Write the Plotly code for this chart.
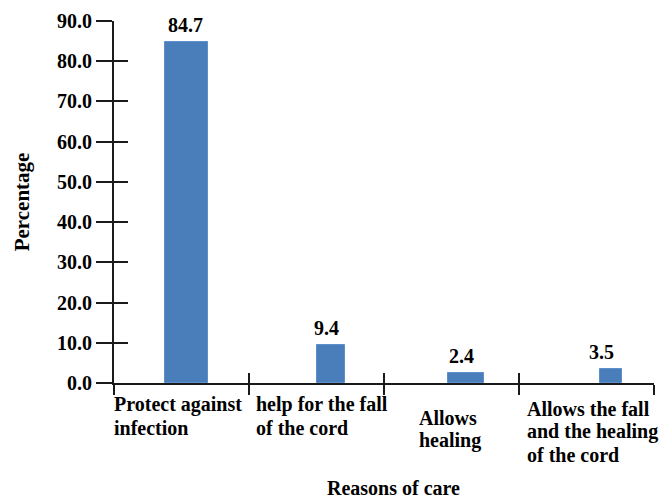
import plotly.graph_objects as go

# ---- data ----
categories = ["Protect against infection", "help for the fall of the cord",
              "Allows healing", "Allows the fall and the healing of the cord"]
category_lines = [["Protect against", "infection"],
                  ["help for the fall", "of the cord"],
                  ["Allows", "healing"],
                  ["Allows the fall", "and the healing", "of the cord"]]
percentages = [84.7, 9.4, 2.4, 3.5]
value_labels = ["84.7", "9.4", "2.4", "3.5"]
y_tickvals = [0, 10, 20, 30, 40, 50, 60, 70, 80, 90]
y_ticktext = ["0.0", "10.0", "20.0", "30.0", "40.0", "50.0", "60.0", "70.0", "80.0", "90.0"]
x_title = "Reasons of care"
y_title = "Percentage"

# ---- styles ----
FONT = "Liberation Serif"
BAR_COLOR = "#4a7ebb"
bar_widths = [0.319, 0.207, 0.267, 0.163]
bar_offsets = [-0.122, 0.004, -0.026, 0.10]
value_xshift = [3.5, 9.5, 9.5, 14.5]
cat_xshift = [-2, 5, 33, 6]
cat_first_baseline = [413, 413, 426, 417]
LINE_GAP = 23
PLOT_BOTTOM = 383
PLOT_H = 362

fig = go.Figure()
fig.add_trace(go.Bar(
    x=categories, y=percentages,
    width=bar_widths, offset=bar_offsets,
    marker=dict(color=BAR_COLOR, line=dict(color="#5e8fcc", width=1)),
    hoverinfo="skip", showlegend=False,
))
# helper trace (draws nothing) so the overlay axes get the category ticks
fig.add_trace(go.Scatter(x=categories, y=percentages, mode="none",
                         xaxis="x2", yaxis="y2", hoverinfo="skip", showlegend=False))

annotations = []
for i, (v, t) in enumerate(zip(percentages, value_labels)):
    annotations.append(dict(x=i, y=v, xref="x", yref="y", text=t, showarrow=False,
                            xanchor="center", yanchor="bottom", yshift=4,
                            xshift=value_xshift[i],
                            font=dict(family=FONT, size=20, color="black", weight="bold")))
for i, lines in enumerate(category_lines):
    for j, line in enumerate(lines):
        base = cat_first_baseline[i] + j * LINE_GAP
        annotations.append(dict(x=i - 0.5, y=-(base + 5 - PLOT_BOTTOM) / PLOT_H,
                                xref="x", yref="paper", text=line,
                                showarrow=False, xanchor="left", yanchor="bottom",
                                xshift=cat_xshift[i],
                                font=dict(family=FONT, size=20, color="black", weight="bold")))
annotations.append(dict(x=0.5, y=-(488 - PLOT_BOTTOM) / PLOT_H, xref="paper", yref="paper",
                        text=x_title, showarrow=False,
                        xanchor="center", yanchor="middle", xshift=9,
                        font=dict(family=FONT, size=20, color="black", weight="bold")))

axis_line = dict(showline=True, linecolor="#1a1a1a", linewidth=2, showgrid=False, zeroline=False)

fig.update_layout(
    width=662, height=501,
    margin=dict(l=114, r=8, t=21, b=118, autoexpand=False),
    paper_bgcolor="white", plot_bgcolor="white",
    font=dict(family=FONT, size=20, color="black"),
    xaxis=dict(type="category", categoryorder="array", categoryarray=categories,
               range=[-0.5, 3.5], tickson="boundaries", ticks="outside", ticklen=10,
               tickwidth=2, tickcolor="#1a1a1a", showticklabels=False, **axis_line),
    xaxis2=dict(type="category", categoryorder="array", categoryarray=categories,
                range=[-0.5, 3.5], overlaying="x", anchor="y", side="bottom",
                tickson="boundaries", ticks="inside", ticklen=10, tickwidth=2,
                tickcolor="#1a1a1a", showticklabels=False, showline=False,
                showgrid=False, zeroline=False),
    yaxis=dict(range=[0, 90], tickvals=y_tickvals, ticktext=y_ticktext,
               ticks="outside", ticklen=16, tickwidth=2, tickcolor="#1a1a1a",
               tickfont=dict(family=FONT, size=20, color="black", weight="bold"),
               title=dict(text=y_title, standoff=22,
                          font=dict(family=FONT, size=21, color="black", weight="bold")),
               **axis_line),
    yaxis2=dict(range=[0, 90], tickvals=y_tickvals, overlaying="y", anchor="x", side="left",
                ticks="inside", ticklen=14, tickwidth=2, tickcolor="#1a1a1a",
                showticklabels=False, showline=False, showgrid=False, zeroline=False),
    annotations=annotations,
    bargap=0,
)

fig.write_html("out.html", config={"displayModeBar": False},
               post_script="document.body.style.margin='0';")
